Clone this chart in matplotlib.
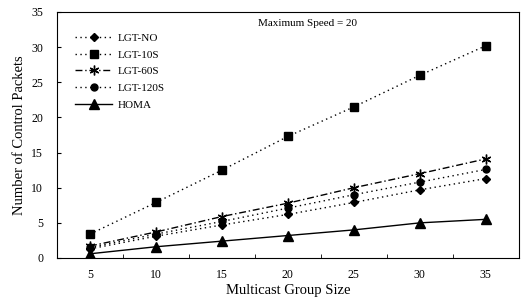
import matplotlib
matplotlib.use("Agg")
import matplotlib.pyplot as plt
import numpy as np

plt.rcParams['font.family'] = ['Liberation Serif', 'DejaVu Serif']

# data
group_size = [5, 10, 15, 20, 25, 30, 35]
lgt_no = [1.3, 3.1, 4.7, 6.2, 7.9, 9.7, 11.3]
lgt_10s = [3.4, 7.9, 12.5, 17.3, 21.5, 26.0, 30.2]
lgt_60s = [1.7, 3.7, 5.9, 7.8, 10.0, 12.0, 14.1]
lgt_120s = [1.5, 3.4, 5.2, 7.1, 9.0, 10.8, 12.6]
homa = [0.6, 1.6, 2.4, 3.2, 4.0, 5.0, 5.5]

fig = plt.figure(figsize=(5.23, 3.0), dpi=100)
ax = fig.add_axes([0.109, 0.14, 0.883, 0.82])

x = np.arange(len(group_size))

ax.plot(x, lgt_no, color='black', linestyle=(0, (1, 2.5)), lw=1,
        marker='D', markersize=4, label='LGT-NO')
ax.plot(x, lgt_10s, color='black', linestyle=(0, (1, 2.5)), lw=1,
        marker='s', markersize=6, label='LGT-10S')
ax.plot(x, lgt_60s, color='black', linestyle=(0, (5, 2, 1, 2)), lw=1,
        marker=(6, 2, 0), markersize=7, markeredgewidth=1, label='LGT-60S')
ax.plot(x, lgt_120s, color='black', linestyle=(0, (1, 2.5)), lw=1,
        marker='o', markersize=5, label='LGT-120S')
ax.plot(x, homa, color='black', linestyle='-', lw=1,
        marker='^', markersize=7.5, label='HOMA')

ax.set_xlim(-0.5, 6.5)
ax.set_ylim(0, 35)
ax.set_yticks(range(0, 36, 5))
ax.set_xticks(x)
ax.set_xticklabels([str(g) for g in group_size])
ax.set_xticks(np.arange(0.5, 6, 1), minor=True)
ax.tick_params(axis='x', which='major', length=0, pad=8, labelsize=8.5)
ax.tick_params(axis='x', which='minor', direction='in', length=3)
ax.tick_params(axis='y', direction='in', length=3, labelsize=8.5, pad=10)

ax.set_xlabel('Multicast Group Size', fontsize=10.5, labelpad=2)
ax.set_ylabel('Number of Control Packets', fontsize=10.5, labelpad=4)

ax.text(0.435, 0.97, 'Maximum Speed = 20', transform=ax.transAxes,
        fontsize=8, va='top', ha='left')

ax.legend(loc='upper left', bbox_to_anchor=(0.018, 0.955), frameon=False,
          fontsize=8, handlelength=3.3, labelspacing=0.62, handletextpad=0.5)

plt.savefig('out.png', dpi=100)
